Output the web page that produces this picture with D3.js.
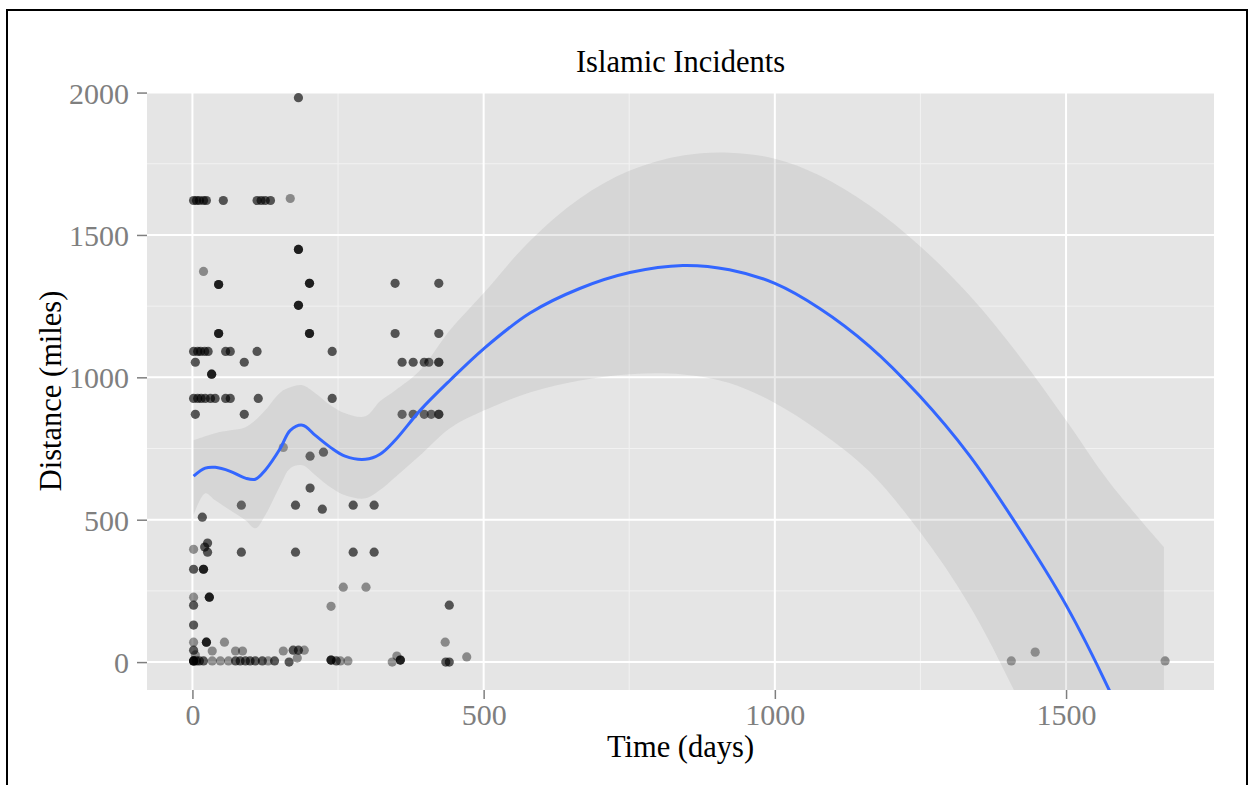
<!DOCTYPE html>
<html><head><meta charset="utf-8">
<script src="https://cdn.jsdelivr.net/npm/d3@7"></script>
<style>body{margin:0;background:#fff}svg{display:block}</style>
</head><body><svg id="c" width="1255" height="785"></svg>
<script>
// ---- data ----
const chartTitle = "Islamic Incidents";
const xLabel = "Time (days)";
const yLabel = "Distance (miles)";
const incDays = [
 2,7,12,19,24,53,111,118,125,134,168,
 182,19,
 45,45,201,201,182,182,182,182,
 45,45,201,201,
 348,423,348,423,
 360,379,398,406,423,423,
 2,9,14,21,27,57,65,111,240,
 5,89,33,33,
 2,9,15,22,31,39,57,65,113,240,
 5,89,
 360,379,398,410,423,423,
 156,202,225,202,
 17,84,177,223,276,312,
 26,26,21,2,84,177,276,312,
 2,19,19,259,298,238,441,
 2,2,29,29,2,
 2,24,24,55,434,471,
 2,34,74,86,156,173,182,192,5,
 2,2,2,7,12,19,34,48,62,74,82,91,99,108,120,130,141,166,180,238,238,247,254,267,343,351,357,357,435,441,
 1406,1447,1670
];
const incMiles = [
 1621,1621,1621,1621,1621,1621,1621,1621,1621,1621,1628,
 1982,1372,
 1326,1326,1330,1330,1449,1449,1253,1253,
 1154,1154,1154,1154,
 1330,1330,1154,1154,
 1053,1053,1053,1053,1053,1053,
 1091,1091,1091,1091,1091,1091,1091,1091,1091,
 1053,1053,1011,1011,
 926,926,926,926,926,926,926,926,926,926,
 870,870,
 870,870,870,870,870,870,
 754,723,737,611,
 509,551,551,537,551,551,
 418,386,404,396,386,386,386,386,
 326,326,326,263,263,196,200,
 228,200,228,228,130,
 70,70,70,70,70,18,
 42,39,39,39,39,42,42,42,25,
 4,4,4,4,4,4,4,4,4,4,4,4,4,4,4,4,4,0,14,7,7,4,4,4,0,21,7,7,0,0,
 4,35,4
];
const incWeight = [
 2,2,2,2,2,2,2,2,2,2,1,
 2,1,
 2,2,2,2,2,2,2,2,
 2,2,2,2,
 2,2,2,2,
 2,2,2,2,2,2,
 2,2,2,2,2,2,2,2,2,
 2,2,2,2,
 2,2,2,2,2,2,2,2,2,2,
 2,2,
 2,2,2,2,2,2,
 1,2,2,2,
 2,2,2,2,2,2,
 2,2,2,1,2,2,2,2,
 2,2,2,1,1,1,2,
 1,2,2,2,2,
 1,2,2,1,1,1,
 2,1,1,1,1,2,2,1,1,
 2,2,2,2,2,2,1,1,1,2,2,2,2,2,2,1,2,2,1,2,2,2,1,1,1,1,2,2,2,2,
 1,1,1
];
const smoothDays = [2,22,39,65,91,108,125,151,168,189,211,237,262,297,322,348,391,442,501,579,665,751,842,922,1000,1077,1162,1248,1334,1419,1500,1574,1668];
const smoothFit  = [653,681,684,670,646,642,674,751,814,832,796,754,723,712,730,779,884,989,1102,1225,1312,1368,1393,1378,1330,1242,1110,936,726,470,200,-98,-540];
const smoothHi   = [779,793,804,814,825,849,884,947,965,972,944,902,874,863,916,954,1025,1165,1298,1478,1628,1726,1779,1789,1768,1709,1604,1463,1288,1077,849,632,404];
const smoothLo   = [516,593,568,533,498,470,516,621,681,691,656,614,586,575,604,649,726,821,884,947,989,1011,1010,980,910,810,670,460,200,-133,-484,-828,-1524];
const xTicks = [0,500,1000,1500];
const yTicks = [0,500,1000,1500,2000];
const xMinor = [250,750,1250];
const yMinor = [250,750,1250,1750];

// ---- layout ----
const svg = d3.select("#c");
const P = {l:147, r:1214, t:92, b:690};
const x = d3.scaleLinear().domain([-78,1754]).range([P.l,P.r]);
const y = d3.scaleLinear().domain([-98,2002]).range([P.b,P.t]);
const alpha = d3.scaleOrdinal().domain([1,2]).range([0.4,0.64]);
const font = "'Liberation Serif','Times New Roman',serif";

svg.append("rect").attr("x",7).attr("y",10).attr("width",1240).attr("height",800)
  .attr("fill","#fff").attr("stroke","#000").attr("stroke-width",2);

svg.append("defs").append("clipPath").attr("id","clip").append("rect")
  .attr("x",P.l).attr("y",P.t).attr("width",P.r-P.l).attr("height",P.b-P.t);

svg.append("rect").attr("x",P.l).attr("y",P.t).attr("width",P.r-P.l).attr("height",P.b-P.t).attr("fill","#E5E5E5");

const grid = svg.append("g");
grid.selectAll(".xm").data(xMinor).join("line").attr("x1",d=>x(d)).attr("x2",d=>x(d)).attr("y1",P.t).attr("y2",P.b).attr("stroke","#F2F2F2").attr("stroke-width",1);
grid.selectAll(".ym").data(yMinor).join("line").attr("y1",d=>y(d)).attr("y2",d=>y(d)).attr("x1",P.l).attr("x2",P.r).attr("stroke","#F2F2F2").attr("stroke-width",1);
grid.selectAll(".xM").data(xTicks).join("line").attr("x1",d=>x(d)).attr("x2",d=>x(d)).attr("y1",P.t).attr("y2",P.b).attr("stroke","#fff").attr("stroke-width",2);
grid.selectAll(".yM").data(yTicks).join("line").attr("y1",d=>y(d)).attr("y2",d=>y(d)).attr("x1",P.l).attr("x2",P.r).attr("stroke","#fff").attr("stroke-width",2);

const plot = svg.append("g").attr("clip-path","url(#clip)");
const pts = d3.range(incDays.length).map(i=>({d:incDays[i],m:incMiles[i],w:incWeight[i]}));
plot.selectAll("circle").data(pts).join("circle")
  .attr("cx",p=>x(p.d)).attr("cy",p=>y(p.m)).attr("r",4.6)
  .attr("fill","#000").attr("fill-opacity",p=>alpha(p.w));

const sm = smoothDays.map((d,i)=>({d,f:smoothFit[i],lo:smoothLo[i],hi:smoothHi[i]}));
const curve = d3.curveCatmullRom.alpha(0.5);
plot.append("path").datum(sm)
  .attr("d",d3.area().x(p=>x(p.d)).y0(p=>y(p.lo)).y1(p=>y(p.hi)).curve(curve))
  .attr("fill","#999999").attr("fill-opacity",0.2);
plot.append("path").datum(sm)
  .attr("d",d3.line().x(p=>x(p.d)).y(p=>y(p.f)).curve(curve))
  .attr("fill","none").attr("stroke","#3366FF").attr("stroke-width",3);

// axes
const xa = svg.append("g").attr("transform",`translate(0,${P.b})`)
  .call(d3.axisBottom(x).tickValues(xTicks).tickSize(9).tickPadding(5).tickFormat(d3.format("d")));
const ya = svg.append("g").attr("transform",`translate(${P.l},0)`)
  .call(d3.axisLeft(y).tickValues(yTicks).tickSize(10).tickPadding(8).tickFormat(d3.format("d")));
[xa,ya].forEach(a=>{
  a.select(".domain").remove();
  a.selectAll(".tick line").attr("stroke","#7F7F7F").attr("stroke-width",1.5);
  a.selectAll(".tick text").attr("fill","#7F7F7F").attr("font-family",font).attr("font-size",30);
});
ya.selectAll(".tick text").attr("dy","0.35em");

svg.append("text").attr("x",(P.l+P.r)/2).attr("y",72).attr("text-anchor","middle")
  .attr("font-family",font).attr("font-size",30.5).attr("fill","#000").text(chartTitle);
svg.append("text").attr("x",(P.l+P.r)/2).attr("y",757).attr("text-anchor","middle")
  .attr("font-family",font).attr("font-size",30.5).attr("fill","#000").text(xLabel);
svg.append("text").attr("transform",`translate(61,${(P.t+P.b)/2}) rotate(-90)`).attr("text-anchor","middle")
  .attr("font-family",font).attr("font-size",30.5).attr("fill","#000").text(yLabel);
</script></body></html>
